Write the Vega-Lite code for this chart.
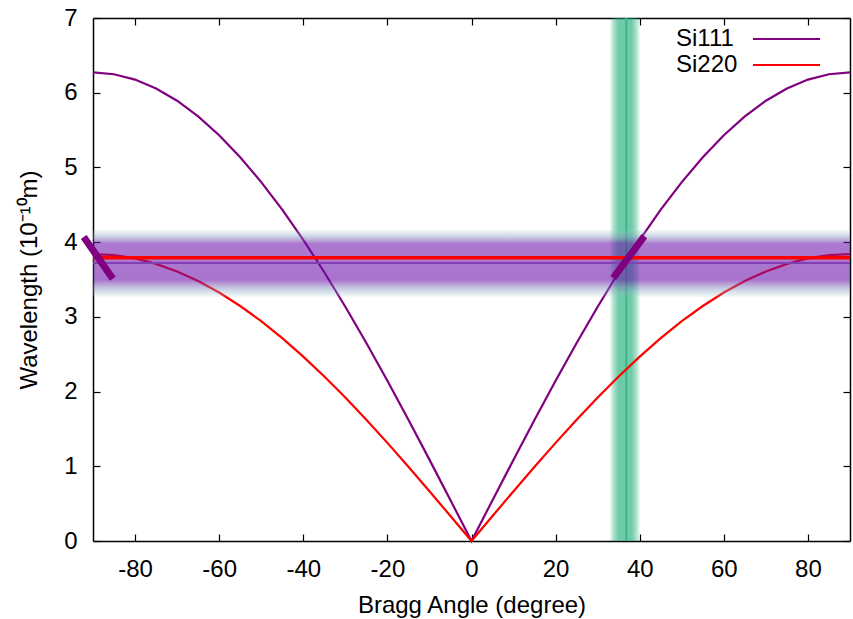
{
  "$schema": "https://vega.github.io/schema/vega-lite/v6.json",
  "width": 757,
  "height": 523,
  "autosize": "none",
  "padding": {"left": 93, "top": 18, "right": 3, "bottom": 78},
  "config": {
    "view": {"stroke": null},
    "font": "Liberation Sans",
    "axis": {"grid": false, "domainColor": "black", "domainWidth": 1.5, "tickColor": "black", "tickWidth": 1.2, "labelColor": "black", "titleColor": "black", "labelFont": "Liberation Sans", "titleFont": "Liberation Sans", "labelFontSize": 24, "titleFontSize": 24, "titleFontWeight": "normal"}
  },
  "datasets": {
    "curves": [
      {"crystal": "Si111", "angle": -90, "wl": 6.271}, {"crystal": "Si111", "angle": -85, "wl": 6.2471}, {"crystal": "Si111", "angle": -80, "wl": 6.1757}, {"crystal": "Si111", "angle": -75, "wl": 6.0573}, {"crystal": "Si111", "angle": -70, "wl": 5.8928}, {"crystal": "Si111", "angle": -65, "wl": 5.6835}, {"crystal": "Si111", "angle": -60, "wl": 5.4309}, {"crystal": "Si111", "angle": -55, "wl": 5.1369}, {"crystal": "Si111", "angle": -50, "wl": 4.8038}, {"crystal": "Si111", "angle": -45, "wl": 4.4343}, {"crystal": "Si111", "angle": -40, "wl": 4.0309}, {"crystal": "Si111", "angle": -35, "wl": 3.5969}, {"crystal": "Si111", "angle": -30, "wl": 3.1355}, {"crystal": "Si111", "angle": -25, "wl": 2.6503}, {"crystal": "Si111", "angle": -20, "wl": 2.1448}, {"crystal": "Si111", "angle": -15, "wl": 1.6231}, {"crystal": "Si111", "angle": -10, "wl": 1.089}, {"crystal": "Si111", "angle": -5, "wl": 0.5466}, {"crystal": "Si111", "angle": 0, "wl": 0},
      {"crystal": "Si111", "angle": 5, "wl": 0.5466}, {"crystal": "Si111", "angle": 10, "wl": 1.089}, {"crystal": "Si111", "angle": 15, "wl": 1.6231}, {"crystal": "Si111", "angle": 20, "wl": 2.1448}, {"crystal": "Si111", "angle": 25, "wl": 2.6503}, {"crystal": "Si111", "angle": 30, "wl": 3.1355}, {"crystal": "Si111", "angle": 35, "wl": 3.5969}, {"crystal": "Si111", "angle": 40, "wl": 4.0309}, {"crystal": "Si111", "angle": 45, "wl": 4.4343}, {"crystal": "Si111", "angle": 50, "wl": 4.8038}, {"crystal": "Si111", "angle": 55, "wl": 5.1369}, {"crystal": "Si111", "angle": 60, "wl": 5.4309}, {"crystal": "Si111", "angle": 65, "wl": 5.6835}, {"crystal": "Si111", "angle": 70, "wl": 5.8928}, {"crystal": "Si111", "angle": 75, "wl": 6.0573}, {"crystal": "Si111", "angle": 80, "wl": 6.1757}, {"crystal": "Si111", "angle": 85, "wl": 6.2471}, {"crystal": "Si111", "angle": 90, "wl": 6.271},
      {"crystal": "Si220", "angle": -90, "wl": 3.84}, {"crystal": "Si220", "angle": -85, "wl": 3.8254}, {"crystal": "Si220", "angle": -80, "wl": 3.7817}, {"crystal": "Si220", "angle": -75, "wl": 3.7092}, {"crystal": "Si220", "angle": -70, "wl": 3.6084}, {"crystal": "Si220", "angle": -65, "wl": 3.4802}, {"crystal": "Si220", "angle": -60, "wl": 3.3256}, {"crystal": "Si220", "angle": -55, "wl": 3.1455}, {"crystal": "Si220", "angle": -50, "wl": 2.9416}, {"crystal": "Si220", "angle": -45, "wl": 2.7153}, {"crystal": "Si220", "angle": -40, "wl": 2.4683}, {"crystal": "Si220", "angle": -35, "wl": 2.2025}, {"crystal": "Si220", "angle": -30, "wl": 1.92}, {"crystal": "Si220", "angle": -25, "wl": 1.6229}, {"crystal": "Si220", "angle": -20, "wl": 1.3134}, {"crystal": "Si220", "angle": -15, "wl": 0.9939}, {"crystal": "Si220", "angle": -10, "wl": 0.6668}, {"crystal": "Si220", "angle": -5, "wl": 0.3347}, {"crystal": "Si220", "angle": 0, "wl": 0},
      {"crystal": "Si220", "angle": 5, "wl": 0.3347}, {"crystal": "Si220", "angle": 10, "wl": 0.6668}, {"crystal": "Si220", "angle": 15, "wl": 0.9939}, {"crystal": "Si220", "angle": 20, "wl": 1.3134}, {"crystal": "Si220", "angle": 25, "wl": 1.6229}, {"crystal": "Si220", "angle": 30, "wl": 1.92}, {"crystal": "Si220", "angle": 35, "wl": 2.2025}, {"crystal": "Si220", "angle": 40, "wl": 2.4683}, {"crystal": "Si220", "angle": 45, "wl": 2.7153}, {"crystal": "Si220", "angle": 50, "wl": 2.9416}, {"crystal": "Si220", "angle": 55, "wl": 3.1455}, {"crystal": "Si220", "angle": 60, "wl": 3.3256}, {"crystal": "Si220", "angle": 65, "wl": 3.4802}, {"crystal": "Si220", "angle": 70, "wl": 3.6084}, {"crystal": "Si220", "angle": 75, "wl": 3.7092}, {"crystal": "Si220", "angle": 80, "wl": 3.7817}, {"crystal": "Si220", "angle": 85, "wl": 3.8254}, {"crystal": "Si220", "angle": 90, "wl": 3.84}
    ],
    "vband": [{"a1": 33.0, "a2": 40.0, "w1": 0, "w2": 7}],
    "vline": [{"a": 36.8, "w1": 0, "w2": 7}],
    "hband": [{"a1": -90, "a2": 90, "w1": 3.27, "w2": 4.16}],
    "redline": [{"a1": -90, "a2": 90, "w": 3.79}],
    "thinline": [{"a1": -90, "a2": 90, "w": 3.72}],
    "segments": [
      {"seg": "left", "a": -92.2, "w": 4.07}, {"seg": "left", "a": -85.3, "w": 3.51},
      {"seg": "right", "a": 33.7, "w": 3.52}, {"seg": "right", "a": 41.1, "w": 4.08}
    ]
  },
  "resolve": {"axis": {"x": "independent", "y": "independent"}},
  "layer": [
    {
      "data": {"name": "vband"},
      "mark": {"type": "rect", "fill": {"gradient": "linear", "x1": 0, "y1": 0, "x2": 1, "y2": 0, "stops": [
        {"offset": 0, "color": "rgba(15,167,110,0.08)"},
        {"offset": 0.12, "color": "rgba(15,167,110,0.35)"},
        {"offset": 0.28, "color": "rgba(15,167,110,0.6)"},
        {"offset": 0.72, "color": "rgba(15,167,110,0.6)"},
        {"offset": 0.88, "color": "rgba(15,167,110,0.35)"},
        {"offset": 1, "color": "rgba(15,167,110,0.08)"}
      ]}},
      "encoding": {
        "x": {"field": "a1", "type": "quantitative", "scale": {"domain": [-90, 90], "nice": false, "zero": false},
          "axis": {"orient": "bottom", "values": [-80, -60, -40, -20, 0, 20, 40, 60, 80], "labelExpr": "'' + datum.value", "tickSize": -7, "labelPadding": 23, "title": "Bragg Angle (degree)", "titlePadding": 12}},
        "x2": {"field": "a2"},
        "y": {"field": "w1", "type": "quantitative", "scale": {"domain": [0, 7], "nice": false, "zero": false},
          "axis": {"orient": "left", "values": [0, 1, 2, 3, 4, 5, 6, 7], "tickSize": -7, "labelPadding": 23, "title": "Wavelength (10⁻¹⁰m)", "titlePadding": 22}},
        "y2": {"field": "w2"}
      }
    },
    {
      "data": {"name": "vline"},
      "mark": {"type": "rule", "color": "#3cb48c", "strokeWidth": 2},
      "encoding": {
        "x": {"field": "a", "type": "quantitative", "axis": null},
        "y": {"field": "w1", "type": "quantitative", "axis": null},
        "y2": {"field": "w2"}
      }
    },
    {
      "data": {"name": "curves"},
      "mark": {"type": "line", "strokeWidth": 2.2},
      "encoding": {
        "x": {"field": "angle", "type": "quantitative", "axis": null},
        "y": {"field": "wl", "type": "quantitative", "axis": null},
        "color": {"field": "crystal", "type": "nominal", "scale": {"domain": ["Si111", "Si220"], "range": ["#800080", "#ff0000"]},
          "legend": {"orient": "none", "legendX": 569, "legendY": 9, "title": null, "labelFontSize": 24, "labelFont": "Liberation Sans", "labelColor": "black", "labelAlign": "left", "labelOffset": -122.5, "symbolOffset": 112.5, "symbolSize": 100, "symbolType": "M-6.7,0H6.7", "symbolStrokeWidth": 2.2, "rowPadding": 2, "padding": 0}}
      }
    },
    {
      "data": {"name": "hband"},
      "mark": {"type": "rect", "fill": {"gradient": "linear", "x1": 0, "y1": 0, "x2": 0, "y2": 1, "stops": [
        {"offset": 0, "color": "rgba(150,200,195,0.15)"},
        {"offset": 0.09, "color": "rgba(130,150,190,0.4)"},
        {"offset": 0.2, "color": "rgba(107,15,170,0.56)"},
        {"offset": 0.75, "color": "rgba(107,15,170,0.58)"},
        {"offset": 0.9, "color": "rgba(130,150,190,0.4)"},
        {"offset": 1, "color": "rgba(150,200,195,0.15)"}
      ]}},
      "encoding": {
        "x": {"field": "a1", "type": "quantitative", "axis": null},
        "x2": {"field": "a2"},
        "y": {"field": "w1", "type": "quantitative", "axis": null},
        "y2": {"field": "w2"}
      }
    },
    {
      "data": {"name": "redline"},
      "mark": {"type": "rule", "color": "#ff0000", "strokeWidth": 3.5},
      "encoding": {
        "x": {"field": "a1", "type": "quantitative", "axis": null},
        "x2": {"field": "a2"},
        "y": {"field": "w", "type": "quantitative", "axis": null}
      }
    },
    {
      "data": {"name": "thinline"},
      "mark": {"type": "rule", "color": "#8040b0", "strokeWidth": 2},
      "encoding": {
        "x": {"field": "a1", "type": "quantitative",
          "axis": {"orient": "top", "values": [-80, -60, -40, -20, 0, 20, 40, 60, 80], "tickSize": -7, "labels": false, "title": null}},
        "x2": {"field": "a2"},
        "y": {"field": "w", "type": "quantitative",
          "axis": {"orient": "right", "values": [0, 1, 2, 3, 4, 5, 6, 7], "tickSize": -7, "labels": false, "title": null}}
      }
    },
    {
      "data": {"name": "segments"},
      "mark": {"type": "line", "color": "#800080", "strokeWidth": 7, "strokeCap": "butt"},
      "encoding": {
        "x": {"field": "a", "type": "quantitative", "axis": null},
        "y": {"field": "w", "type": "quantitative", "axis": null},
        "detail": {"field": "seg"}
      }
    }
  ]
}
